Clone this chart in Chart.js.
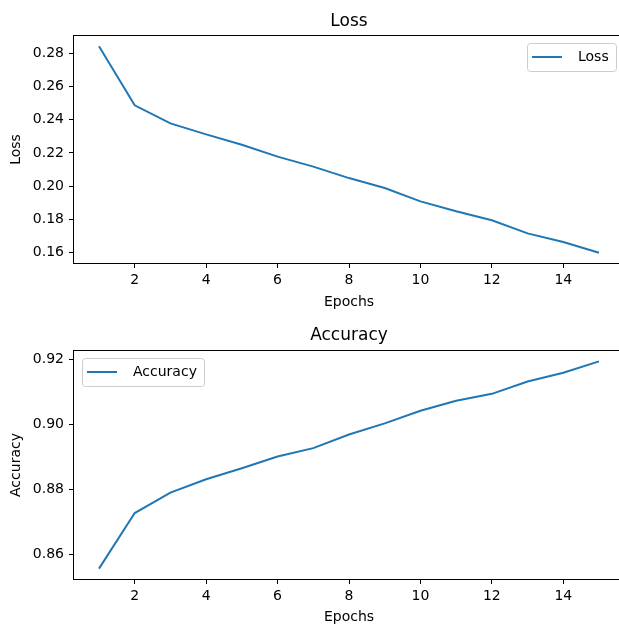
<!DOCTYPE html>
<html>
<head>
<meta charset="utf-8">
<title>Loss / Accuracy</title>
<script src="https://cdn.jsdelivr.net/npm/chart.js@4.4.1/dist/chart.umd.min.js"></script>
<style>
  html, body { margin: 0; padding: 0; background: #fff; overflow: hidden; }
  .plot { width: 640px; height: 313px; }
  canvas { display: block; }
</style>
</head>
<body>
<div class="plot"><canvas id="loss_chart" width="640" height="313"></canvas></div>
<div class="plot"><canvas id="accuracy_chart" width="640" height="313"></canvas></div>
<script>
// values
const epochs = [1, 2, 3, 4, 5, 6, 7, 8, 9, 10, 11, 12, 13, 14, 15]
const lossValues = [0.2842, 0.2487, 0.2378, 0.2312, 0.2250, 0.2178, 0.2118, 0.2049, 0.1989, 0.1909, 0.1849, 0.1795, 0.1716, 0.1664, 0.1600]
const accuracyValues = [0.8555, 0.8726, 0.8789, 0.8830, 0.8864, 0.8900, 0.8926, 0.8968, 0.9002, 0.9041, 0.9072, 0.9093, 0.9131, 0.9158, 0.9193]

const epochTicks = [2, 4, 6, 8, 10, 12, 14]
const lossTicks = [0.16, 0.18, 0.20, 0.22, 0.24, 0.26, 0.28]
const accuracyTicks = [0.86, 0.88, 0.90, 0.92]

const FONT = "'DejaVu Sans', sans-serif"
const LINE_COLOR = '#1f77b4'

Chart.defaults.font.family = FONT
Chart.defaults.color = '#000'

// matplotlib style: 5% margin around the data
function paddedRange(values) {
  const lo = Math.min(...values)
  const hi = Math.max(...values)
  const m = (hi - lo) * 0.05
  return { min: lo - m, max: hi + m }
}

// the four spines round the plot area
const axesFrame = {
  id: 'axesFrame',
  afterDatasetsDraw(chart) {
    const { ctx, chartArea: a } = chart
    ctx.save()
    ctx.strokeStyle = '#000'
    ctx.lineWidth = 1
    ctx.strokeRect(a.left - 0.5, a.top - 0.5, a.width + 1, a.height + 1)
    ctx.restore()
  },
}

// legend in a framed box inside the axes, like matplotlib
const boxLegend = {
  id: 'boxLegend',
  afterDraw(chart, args, opts) {
    const { ctx, chartArea: a } = chart
    const ds = chart.data.datasets[0]
    ctx.save()
    ctx.font = `14px ${FONT}`
    const textW = ctx.measureText(ds.label).width
    const w = Math.round(5 + 30 + 16 + textW + 7)
    const h = 28
    const x = opts.corner === 'right' ? Math.round(a.right - 8 - w) : Math.round(a.left + 8)
    const y = Math.round(a.top + 7)

    ctx.beginPath()
    if (ctx.roundRect) ctx.roundRect(x + 0.5, y + 0.5, w, h, 3)
    else ctx.rect(x + 0.5, y + 0.5, w, h)
    ctx.fillStyle = 'rgba(255,255,255,0.8)'
    ctx.fill()
    ctx.strokeStyle = '#cccccc'
    ctx.lineWidth = 1
    ctx.stroke()

    const cy = y + h / 2
    ctx.beginPath()
    ctx.moveTo(x + 5, cy)
    ctx.lineTo(x + 35, cy)
    ctx.strokeStyle = ds.borderColor
    ctx.lineWidth = ds.borderWidth
    ctx.stroke()

    ctx.fillStyle = '#000'
    ctx.textAlign = 'left'
    ctx.textBaseline = 'middle'
    ctx.fillText(ds.label, x + 51, cy)
    ctx.restore()
  },
}

function makeChart(canvasId, cfg) {
  const xRange = paddedRange(epochs)
  const yRange = paddedRange(cfg.values)

  return new Chart(document.getElementById(canvasId), {
    type: 'line',
    data: {
      datasets: [
        {
          label: cfg.label,
          data: epochs.map((e, i) => ({ x: e, y: cfg.values[i] })),
          borderColor: LINE_COLOR,
          borderWidth: 2,
          pointRadius: 0,
          fill: false,
          tension: 0,
        },
      ],
    },
    options: {
      responsive: false,
      devicePixelRatio: 1,
      animation: false,
      events: [],
      layout: { padding: { left: 0, right: 16, top: 0, bottom: 0 } },
      scales: {
        x: {
          type: 'linear',
          min: xRange.min,
          max: xRange.max,
          afterBuildTicks: s => { s.ticks = epochTicks.map(v => ({ value: v })) },
          afterFit: s => { s.height = cfg.xScaleHeight },
          grid: { drawOnChartArea: false, drawTicks: true, tickLength: 5, color: '#000', lineWidth: 1 },
          border: { display: false },
          ticks: { padding: 4, autoSkip: false, maxRotation: 0, font: { size: 14 }, color: '#000', callback: v => String(v) },
          title: { display: true, text: 'Epochs', font: { size: 14 }, color: '#000', padding: { top: 0, bottom: cfg.xTitlePad } },
        },
        y: {
          type: 'linear',
          min: yRange.min,
          max: yRange.max,
          afterBuildTicks: s => { s.ticks = cfg.yTicks.map(v => ({ value: v })) },
          afterFit: s => { s.width = 74 },
          grid: { drawOnChartArea: false, drawTicks: true, tickLength: 5, color: '#000', lineWidth: 1 },
          border: { display: false },
          ticks: { padding: 5, autoSkip: false, font: { size: 14 }, color: '#000', callback: v => v.toFixed(2) },
          title: { display: true, text: cfg.label, font: { size: 14 }, color: '#000', padding: { top: 8, bottom: 0 } },
        },
      },
      plugins: {
        legend: { display: false },
        tooltip: { enabled: false },
        title: {
          display: true,
          text: cfg.title,
          fullSize: false,
          color: '#000',
          font: { size: 17, weight: 'normal', lineHeight: '20px' },
          padding: cfg.titlePad,
        },
        boxLegend: { corner: cfg.legendCorner },
      },
    },
    plugins: [axesFrame, boxLegend],
  })
}

makeChart('loss_chart', {
  title: 'Loss',
  label: 'Loss',
  values: lossValues,
  yTicks: lossTicks,
  legendCorner: 'right',
  titlePad: { top: 12, bottom: 4 },
  xScaleHeight: 50,
  xTitlePad: 2,
})

makeChart('accuracy_chart', {
  title: 'Accuracy',
  label: 'Accuracy',
  values: accuracyValues,
  yTicks: accuracyTicks,
  legendCorner: 'left',
  titlePad: { top: 13, bottom: 5 },
  xScaleHeight: 47,
  xTitlePad: 0,
})
</script>
</body>
</html>
